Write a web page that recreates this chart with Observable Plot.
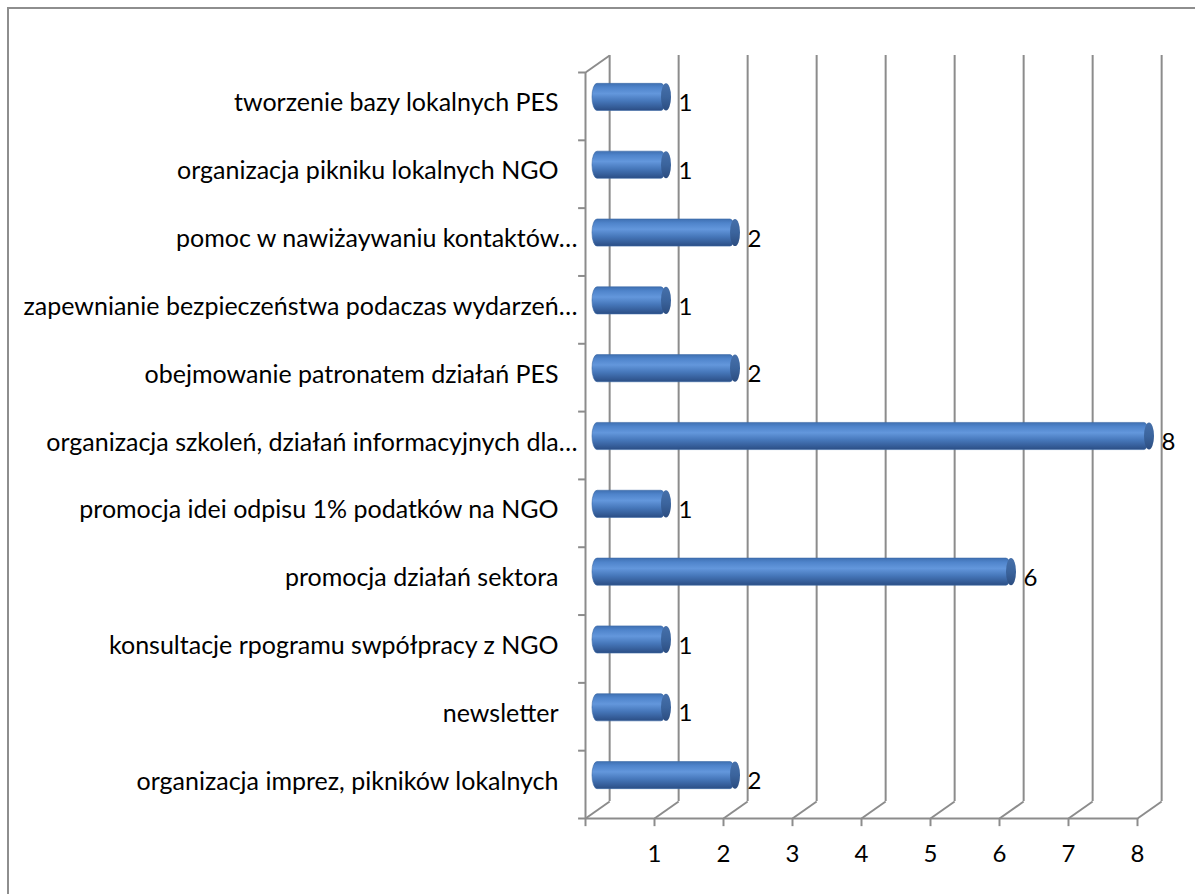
<!DOCTYPE html>
<html>
<head>
<meta charset="utf-8">
<script src="https://cdn.jsdelivr.net/npm/d3@7"></script>
<script src="https://cdn.jsdelivr.net/npm/@observablehq/plot@0.6"></script>
<style>
  html, body { margin: 0; padding: 0; background: #fff; }
  #wrap { position: relative; width: 1195px; height: 894px; overflow: hidden; }
  #frame { position: absolute; left: 7px; top: 7px; width: 1400px; height: 1000px;
           border-left: 2px solid #8e8e8e; border-top: 2px solid #8e8e8e; }
  #chart { position: absolute; left: 0; top: 0; }
</style>
</head>
<body>
<div id="wrap"><div id="frame"></div><div id="chart"></div></div>
<script>
// Categories, top to bottom as shown
const categories = [
  "tworzenie bazy lokalnych PES",
  "organizacja pikniku lokalnych NGO",
  "pomoc w nawiżaywaniu kontaktów…",
  "zapewnianie bezpieczeństwa podaczas wydarzeń…",
  "obejmowanie patronatem działań PES",
  "organizacja szkoleń, działań informacyjnych dla…",
  "promocja idei odpisu 1% podatków na NGO",
  "promocja działań sektora",
  "konsultacje rpogramu swpółpracy z NGO",
  "newsletter",
  "organizacja imprez, pikników lokalnych"
];
const values = [1, 1, 2, 1, 2, 8, 1, 6, 1, 1, 2];
const xTicks = [0, 1, 2, 3, 4, 5, 6, 7, 8];
const xTickLabels = ["", "1", "2", "3", "4", "5", "6", "7", "8"];

const rows = categories.map((c, i) => ({cat: c, value: values[i], i}));
const nCat = categories.length;
const bounds = d3.range(nCat + 1);

// 3-D depth of the back wall, in data units
const DX = 0.35, DY = 0.25;
const grid = "#8c8c8c";
const CAT_FONT = 25;
const NUM_FONT = 24;

const chart = Plot.plot({
  width: 1195,
  height: 894,
  style: {fontFamily: "Lato, 'Open Sans', sans-serif", background: "transparent"},
  x: {domain: [0, 8], range: [585, 1137], axis: null},
  y: {domain: [0, nCat], range: [72, 818], axis: null},
  marks: [
    // back wall gridlines
    Plot.ruleX(xTicks, {x: d => d + DX, y1: -DY, y2: nCat - DY, stroke: grid, strokeWidth: 2}),
    // floor slants
    Plot.link(xTicks, {x1: d => d, y1: nCat, x2: d => d + DX, y2: nCat - DY, stroke: grid, strokeWidth: 2}),
    // top-left slant
    Plot.link([0], {x1: 0, y1: 0, x2: DX, y2: -DY, stroke: grid, strokeWidth: 2}),
    // front axes
    Plot.ruleX([0], {y1: 0, y2: nCat, stroke: grid, strokeWidth: 2}),
    Plot.ruleY([nCat], {x1: 0, x2: 8, stroke: grid, strokeWidth: 2}),
    // category tick marks
    Plot.ruleY(bounds, {x1: -0.1, x2: 0, stroke: grid, strokeWidth: 2}),
    // value tick marks
    Plot.ruleX(xTicks, {y1: nCat, y2: nCat + 0.12, stroke: grid, strokeWidth: 2}),
    // cylinder bodies
    Plot.rect(rows, {x1: 0, x2: "value", y1: d => d.i + 0.3, y2: d => d.i + 0.7,
      dx: 12, dy: -9, insetLeft: -5, rx: 5, ry: 13.5, fill: "url(#cylBody)", stroke: "#3d6aa6", strokeWidth: 0.6}),
    // cylinder end caps
    Plot.rect(rows, {x1: "value", x2: "value", y1: d => d.i + 0.3, y2: d => d.i + 0.7,
      dx: 12, dy: -9, insetLeft: -5, insetRight: -5, rx: 5, ry: 13.5, fill: "url(#cylCap)"}),
    // value labels
    Plot.text(rows, {x: "value", y: d => d.i + 0.5, text: d => String(d.value),
      dx: 24, dy: -3, textAnchor: "start", fontSize: NUM_FONT, fill: "#000"}),
    // category labels
    Plot.text(rows.filter(d => !d.cat.endsWith("…")), {x: 0, y: d => d.i + 0.5, text: "cat",
      dx: -27, dy: -3, textAnchor: "end", fontSize: CAT_FONT, fill: "#000"}),
    Plot.text(rows.filter(d => d.cat.endsWith("…")), {x: 0, y: d => d.i + 0.5, text: "cat",
      dx: -8, dy: -3, textAnchor: "end", fontSize: CAT_FONT, fill: "#000"}),
    // x tick labels
    Plot.text(xTicks, {x: d => d, y: nCat, text: (d, i) => xTickLabels[i],
      dy: 36, textAnchor: "middle", fontSize: NUM_FONT, fill: "#000"})
  ]
});

d3.select(chart).insert("defs", ":first-child").html(`
  <linearGradient id="cylBody" x1="0" y1="0" x2="0" y2="1">
    <stop offset="0" stop-color="#3f70b2"/>
    <stop offset="0.15" stop-color="#4f84cb"/>
    <stop offset="0.38" stop-color="#6397dc"/>
    <stop offset="0.65" stop-color="#4677ba"/>
    <stop offset="1" stop-color="#2b4e85"/>
  </linearGradient>
  <linearGradient id="cylCap" x1="0" y1="0" x2="0" y2="1">
    <stop offset="0" stop-color="#4670aa"/>
    <stop offset="0.5" stop-color="#3b649d"/>
    <stop offset="1" stop-color="#2c4d80"/>
  </linearGradient>
`);

document.getElementById("chart").appendChild(chart);
</script>
</body>
</html>
